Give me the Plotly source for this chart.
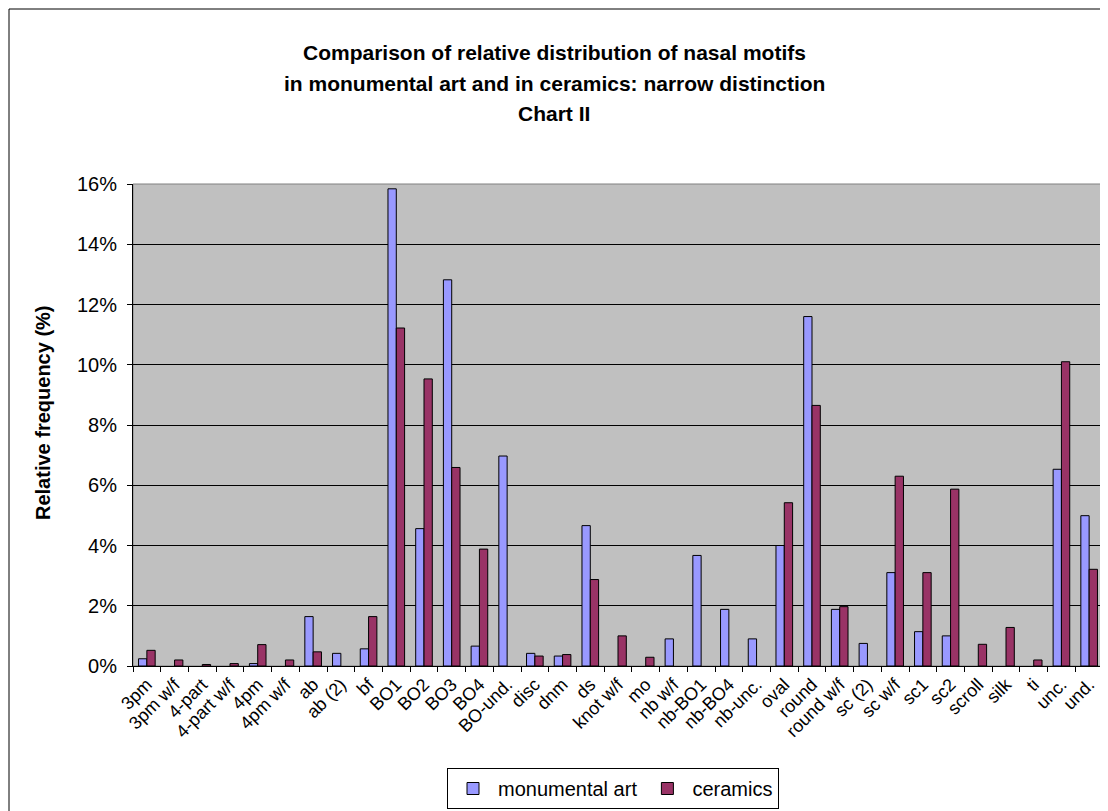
import plotly.graph_objects as go

# motif categories along the x axis
motifs = [
    "3pm", "3pm w/f", "4-part", "4-part w/f", "4pm", "4pm w/f", "ab", "ab (2)",
    "bf", "BO1", "BO2", "BO3", "BO4", "BO-und.", "disc", "dnm", "ds", "knot w/f",
    "mo", "nb w/f", "nb-BO1", "nb-BO4", "nb-unc.", "oval", "round", "round w/f",
    "sc (2)", "sc w/f", "sc1", "sc2", "scroll", "silk", "ti", "unc.", "und.",
]

# relative frequency (fraction); 0 = no bar
monumental_art = [
    0.0024, 0.0, 0.0, 0.0, 0.0008, 0.0, 0.0164, 0.0042,
    0.0057, 0.1584, 0.0456, 0.1282, 0.0066, 0.0697, 0.0042, 0.0033, 0.0466, 0.0,
    0.0, 0.0090, 0.0367, 0.0188, 0.0090, 0.0400, 0.1160, 0.0188,
    0.0075, 0.0310, 0.0114, 0.0100, 0.0, 0.0, 0.0, 0.0653, 0.0499,
]
ceramics = [
    0.0052, 0.0020, 0.0005, 0.0008, 0.0071, 0.0020, 0.0047, 0.0,
    0.0164, 0.1122, 0.0953, 0.0659, 0.0388, 0.0, 0.0033, 0.0038, 0.0287, 0.0100,
    0.0029, 0.0, 0.0, 0.0, 0.0, 0.0542, 0.0865, 0.0197,
    0.0, 0.0630, 0.0310, 0.0587, 0.0072, 0.0128, 0.0020, 0.1010, 0.0321,
]

title_lines = [
    "Comparison of relative distribution of nasal motifs",
    "in monumental art and in ceramics: narrow distinction",
    "Chart II",
]


def no_zero(vals):
    # empty cells in the sheet: skip the bar so no outline is drawn at 0
    return [v if v > 0 else None for v in vals]


fig = go.Figure()
fig.add_trace(go.Bar(
    x=motifs, y=no_zero(monumental_art), name="monumental art",
    marker=dict(color="#9999FF", line=dict(color="black", width=1)),
))
fig.add_trace(go.Bar(
    x=motifs, y=no_zero(ceramics), name="ceramics",
    marker=dict(color="#993366", line=dict(color="black", width=1)),
))

# page has an 8px body margin, so the figure is a bit smaller than the window
fig.update_layout(
    width=1100, height=803,
    paper_bgcolor="white", plot_bgcolor="#C0C0C0",
    font=dict(family="Liberation Sans, Arial, sans-serif", color="black"),
    margin=dict(l=125, r=5, t=176, b=145, autoexpand=False),
    barmode="group", bargap=0.4, bargroupgap=0,
    showlegend=True,
)

# plot area spans page x 133..1103, page y 184..666
def px(x):
    return (x - 133) / 970

def py(y):
    return (666 - y) / 482

fig.update_layout(legend=dict(
    orientation="h", x=px(613), xanchor="center", y=py(768), yanchor="top",
    bordercolor="black", borderwidth=1, bgcolor="white",
    font=dict(size=20), traceorder="normal", itemwidth=40,
))

for line, y in zip(title_lines, [52, 83, 113]):
    fig.add_annotation(text="<b>" + line + "</b>", xref="paper", yref="paper",
                       x=px(554), y=py(y), showarrow=False,
                       xanchor="center", yanchor="middle", font=dict(size=21))

fig.add_annotation(text="<b>Relative frequency (%)</b>", xref="paper", yref="paper",
                   x=px(43), y=py(413), textangle=-90, showarrow=False,
                   xanchor="center", yanchor="middle", font=dict(size=20))

fig.update_xaxes(
    type="category", tickangle=-45, tickfont=dict(size=18),
    showline=True, linecolor="black", linewidth=1,
    ticks="outside", tickson="boundaries", ticklen=5, tickcolor="black",
    showgrid=False,
)
fig.update_yaxes(
    range=[0, 0.16], dtick=0.02, tickformat=".0%", tickfont=dict(size=20),
    showline=True, linecolor="black", linewidth=1,
    ticks="outside", ticklen=5, tickcolor="black", ticklabelstandoff=6,
    showgrid=True, gridcolor="black", gridwidth=1, zeroline=False,
)

# grey frame round the plot area, outer chart border
fig.add_shape(type="rect", xref="paper", yref="paper", x0=0, x1=1, y0=0, y1=1,
              line=dict(color="#808080", width=1), layer="below")
fig.add_shape(type="rect", xref="paper", yref="paper",
              x0=px(9), x1=px(1130), y0=py(830), y1=py(9),
              line=dict(color="black", width=1), layer="below")

fig.write_html("out.html")
